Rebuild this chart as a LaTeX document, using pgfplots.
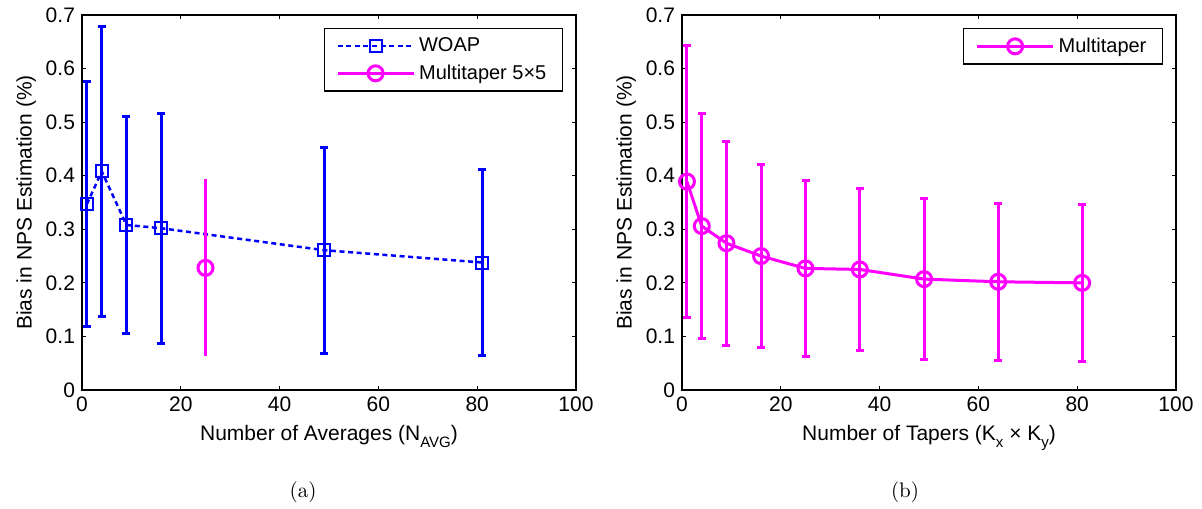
\documentclass[border=0pt]{standalone}
\usepackage{fontspec}
\setsansfont{Liberation Sans}
\usepackage{pgfplots}
\pgfplotsset{compat=1.18}
\definecolor{mag}{rgb}{1,0,1}
\definecolor{blu}{rgb}{0,0,1}
\newcommand{\hv}{\sffamily\fontsize{10.5}{12}\selectfont}
\newcommand{\hvl}{\sffamily\fontsize{10}{12}\selectfont}
\newcommand{\sub}[1]{\raisebox{-0.6ex}{\fontsize{7.5}{8}\selectfont #1}}
\pgfplotsset{mystyle/.style={
  scale only axis, width=247pt, height=187.5pt,
  xmin=0, xmax=100, ymin=0, ymax=0.7,
  xtick={0,20,40,60,80,100},
  ytick={0,0.1,0.2,0.3,0.4,0.5,0.6,0.7},
  tick align=inside, tick pos=both, major tick length=2pt,
  axis line style={line width=0.7pt},
  every tick/.style={black, line width=0.6pt},
  tick label style={font=\hv},
  label style={font=\hv},
  ylabel shift=-2pt,
  /pgf/number format/assume math mode=true,
  yticklabel style={/pgf/number format/fixed, /pgf/number format/precision=1},
  ylabel={Bias in NPS Estimation (\%)},
  legend style={font=\hvl, at={(1,1)}, anchor=north east, xshift=-6.5pt, yshift=-6.5pt,
     draw=black, line width=0.6pt, inner xsep=6pt, inner ysep=2.5pt, row sep=1pt},
  legend cell align=left,
  legend image code/.code={\draw[mark repeat=2,mark phase=2,##1] plot coordinates {(0pt,0pt) (19pt,0pt) (38pt,0pt)};},
}}
\begin{document}
\begin{tikzpicture}
\useasboundingbox (-41pt,-59pt) rectangle (560pt,195pt);
\begin{axis}[mystyle, at={(0pt,0pt)}, anchor=south west,
  xlabel={Number of Averages (N\sub{AVG})}]
\addplot[blu, line width=1.25pt, dash pattern=on 2.5pt off 1.8pt, mark=square, mark size=3pt,
  mark options={solid, line width=1pt},
  error bars/.cd, y dir=both, y explicit,
  error bar style={line width=1.5pt, solid},
  error mark options={rotate=90, mark size=2pt, line width=1.5pt, solid}]
 coordinates {
 (1,0.347) +- (0,0.229)
 (4,0.408) +- (0,0.270)
 (9,0.308) +- (0,0.202)
 (16,0.302) +- (0,0.215)
 (49,0.261) +- (0,0.192)
 (81,0.238) +- (0,0.174)
 };
\addlegendentry{WOAP}
\addplot[mag, line width=1.5pt, mark=o, mark size=3.75pt,
  error bars/.cd, y dir=both, y explicit,
  error bar style={line width=1.75pt},
  error mark=none]
 coordinates {
 (25,0.228) +- (0,0.165)
 };
\addlegendentry{Multitaper 5×5}
\end{axis}
\begin{axis}[mystyle, at={(300pt,0pt)}, anchor=south west,
  xlabel={Number of Tapers (K\sub{x} × K\sub{y})}]
\addplot[mag, line width=1.5pt, mark=o, mark size=3.75pt,
  mark options={line width=1.5pt},
  error bars/.cd, y dir=both, y explicit,
  error bar style={line width=1.5pt},
  error mark options={rotate=90, mark size=2pt, line width=1.5pt}]
 coordinates {
 (1,0.389) +- (0,0.254)
 (4,0.306) +- (0,0.210)
 (9,0.274) +- (0,0.190)
 (16,0.250) +- (0,0.171)
 (25,0.227) +- (0,0.164)
 (36,0.225) +- (0,0.152)
 (49,0.207) +- (0,0.150)
 (64,0.202) +- (0,0.147)
 (81,0.200) +- (0,0.147)
 };
\addlegendentry{Multitaper}
\end{axis}
\node[font=\rmfamily\fontsize{10.5}{12}\selectfont] at (110.5pt,-51pt) {(a)};
\node[font=\rmfamily\fontsize{10.5}{12}\selectfont] at (411.5pt,-51pt) {(b)};
\end{tikzpicture}
\end{document}
